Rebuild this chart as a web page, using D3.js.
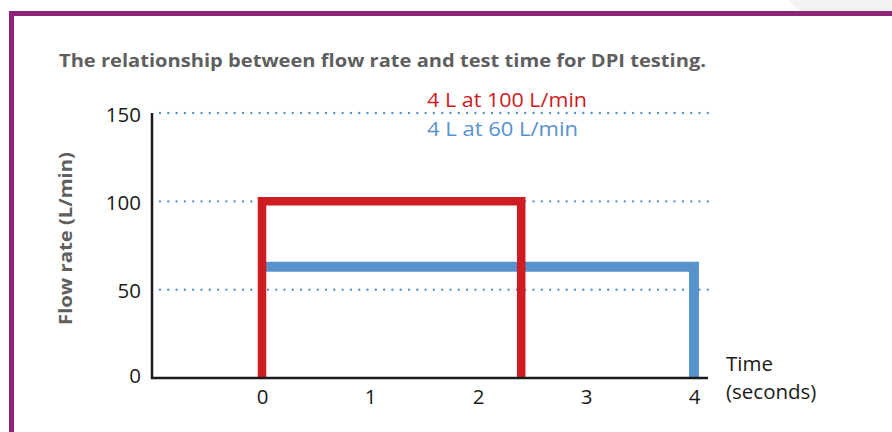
<!DOCTYPE html>
<html>
<head>
<meta charset="utf-8">
<script src="https://cdn.jsdelivr.net/npm/d3@7"></script>
<style>
  html, body { margin: 0; padding: 0; background: #fff; }
  svg { display: block; }
</style>
</head>
<body>
<svg id="chart" width="892" height="432"></svg>
<script>
// ---- data ----
const titleText = "The relationship between flow rate and test time for DPI testing.";
const yAxisTitle = "Flow rate (L/min)";
const xAxisTitle = ["Time", "(seconds)"];
const seriesNames = ["4 L at 100 L/min", "4 L at 60 L/min"];
const flowRates = [100, 63];      // drawn plateau height (L/min)
const durations = [2.4, 4];       // test time (s)
const seriesColors = ["#cf1b22", "#5792cd"];
const xTicks = [0, 1, 2, 3, 4];
const yTicks = [0, 50, 100, 150];
const gridValues = [50, 100, 150];

const svg = d3.select("#chart");
const bodyFont = "'Open Sans', sans-serif";

// background decorations
svg.append("polygon").attr("points", "788,0 892,0 892,11 800,11").attr("fill", "#f2f2f2");
svg.append("rect").attr("x", 9).attr("y", 11).attr("width", 883).attr("height", 5).attr("fill", "#8e2378");
svg.append("rect").attr("x", 9).attr("y", 11).attr("width", 5).attr("height", 421).attr("fill", "#8e2378");

// title
svg.append("text").attr("x", 59).attr("y", 66.5)
  .attr("font-family", bodyFont).attr("font-weight", 700).attr("font-size", 18.5)
  .attr("textLength", 647).attr("lengthAdjust", "spacingAndGlyphs")
  .attr("fill", "#5f5f5f").text(titleText);

// scales
const x = d3.scaleLinear().domain([0, 4]).range([262, 694]);
const y = d3.scaleLinear().domain([0, 150]).range([378, 113]);

// gridlines
svg.append("g").selectAll("line").data(gridValues).join("line")
  .attr("x1", 160).attr("x2", 708)
  .attr("y1", d => y(d)).attr("y2", d => y(d))
  .attr("stroke", "#5792cd").attr("stroke-width", 2.4)
  .attr("stroke-linecap", "round").attr("stroke-dasharray", "0 8.3");

// y axis
const yAxis = svg.append("g").attr("transform", "translate(152,0)")
  .call(d3.axisLeft(y).tickValues(yTicks).tickSize(0).tickPadding(11));
yAxis.select(".domain").remove();
yAxis.selectAll("text").attr("font-family", bodyFont).attr("font-size", 20.5)
  .attr("fill", "#1a1a1a").attr("dy", "0.4em");
yAxis.selectAll(".tick").filter(d => d === 0).select("text").attr("dy", "0.22em");

// x axis
const xAxis = svg.append("g").attr("transform", "translate(0,378)")
  .call(d3.axisBottom(x).tickValues(xTicks).tickSize(0).tickFormat(d3.format("d")));
xAxis.select(".domain").remove();
xAxis.selectAll("text").attr("font-family", bodyFont).attr("font-size", 20.5)
  .attr("fill", "#1a1a1a").attr("y", 26).attr("dy", 0);

// series
const line = d3.line().x(d => x(d[0])).y(d => y(d[1]));
// blue first (under red)
svg.append("path")
  .attr("d", line([[0, flowRates[1]], [durations[1], flowRates[1]], [durations[1], 0]]))
  .attr("fill", "none").attr("stroke", seriesColors[1]).attr("stroke-width", 10)
  .attr("stroke-linejoin", "miter");
svg.append("path")
  .attr("d", line([[0, 0], [0, flowRates[0]], [durations[0], flowRates[0]], [durations[0], 0]]))
  .attr("fill", "none").attr("stroke", seriesColors[0]).attr("stroke-width", 8.5)
  .attr("stroke-linejoin", "miter");

// axis lines
svg.append("line").attr("x1", 152).attr("x2", 152).attr("y1", y(150)).attr("y2", 379)
  .attr("stroke", "#1a1a1a").attr("stroke-width", 2.5);
svg.append("line").attr("x1", 151).attr("x2", 708).attr("y1", 378).attr("y2", 378)
  .attr("stroke", "#1a1a1a").attr("stroke-width", 2.5);

// legend labels
const legendWidths = [160, 151];
svg.selectAll(".lg").data(seriesNames).join("text")
  .attr("x", 427).attr("y", (d, i) => i === 0 ? 106.5 : 136)
  .attr("font-family", bodyFont).attr("font-size", 19.5)
  .attr("textLength", (d, i) => legendWidths[i]).attr("lengthAdjust", "spacingAndGlyphs")
  .attr("fill", (d, i) => seriesColors[i]).text(d => d);

// y axis title
svg.append("text").attr("transform", "translate(72,238.5) rotate(-90)")
  .attr("text-anchor", "middle")
  .attr("font-family", bodyFont).attr("font-weight", 700).attr("font-size", 17.5)
  .attr("textLength", 173).attr("lengthAdjust", "spacingAndGlyphs")
  .attr("fill", "#5f5f5f").text(yAxisTitle);

// x axis title
svg.append("g").selectAll("text").data(xAxisTitle).join("text")
  .attr("x", 726).attr("y", (d, i) => i === 0 ? 370.5 : 399)
  .attr("font-family", bodyFont).attr("font-size", 20.5)
  .attr("fill", "#1a1a1a").text(d => d);
</script>
</body>
</html>
